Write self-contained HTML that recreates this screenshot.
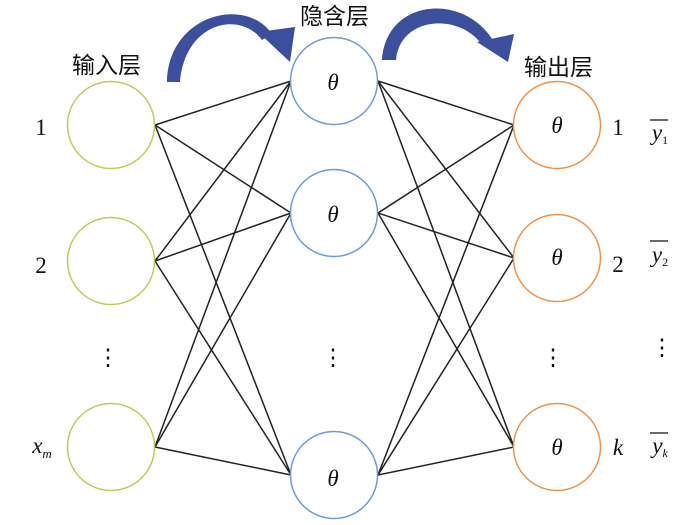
<!DOCTYPE html>
<html><head><meta charset="utf-8"><style>
body{margin:0;background:#fff}
svg{display:block}
text{font-family:"Liberation Serif","Noto Serif CJK SC",serif;fill:#111}
.cn{font-family:"Liberation Sans","Noto Sans CJK SC",sans-serif;font-size:23px}
.it{font-style:italic}
</style></head><body>
<svg width="700" height="525" viewBox="0 0 700 525" xmlns="http://www.w3.org/2000/svg">
<g stroke="#222" stroke-width="1.5">
<line x1="155" y1="125" x2="291" y2="81"/><line x1="155" y1="125" x2="291" y2="213"/><line x1="155" y1="125" x2="291" y2="475"/>
<line x1="155" y1="261" x2="291" y2="81"/><line x1="155" y1="261" x2="291" y2="213"/><line x1="155" y1="261" x2="291" y2="475"/>
<line x1="155" y1="447" x2="291" y2="81"/><line x1="155" y1="447" x2="291" y2="213"/><line x1="155" y1="447" x2="291" y2="475"/>
<line x1="378" y1="81" x2="514" y2="125"/><line x1="378" y1="81" x2="514" y2="258"/><line x1="378" y1="81" x2="514" y2="447"/>
<line x1="378" y1="213" x2="514" y2="125"/><line x1="378" y1="213" x2="514" y2="258"/><line x1="378" y1="213" x2="514" y2="447"/>
<line x1="378" y1="475" x2="514" y2="125"/><line x1="378" y1="475" x2="514" y2="258"/><line x1="378" y1="475" x2="514" y2="447"/>
</g>
<g fill="#fff" stroke-width="1.5">
<circle cx="111" cy="125" r="43.5" stroke="#b5cf5a"/>
<circle cx="111" cy="261" r="43.5" stroke="#b5cf5a"/>
<circle cx="111" cy="447" r="43.5" stroke="#b5cf5a"/>
<circle cx="334" cy="81" r="43.5" stroke="#6f9bd0"/>
<circle cx="334" cy="213" r="43.5" stroke="#6f9bd0"/>
<circle cx="334" cy="475" r="43.5" stroke="#6f9bd0"/>
<circle cx="557" cy="125" r="43.5" stroke="#f0924a"/>
<circle cx="557" cy="258" r="43.5" stroke="#f0924a"/>
<circle cx="557" cy="447" r="43.5" stroke="#f0924a"/>
</g>
<g fill="#3b4f9c" stroke="none">
<path d="M167,82 C168,15 245,-5 272,34 L262,40 C240,10 185,22 180,82 Z"/>
<path d="M258,32 L295,27 L290,62 Z"/>
<path d="M382,60 C386,-2 465,-8 494,42 L483,46 C460,12 400,16 396,60 Z"/>
<path d="M477,42 L514,34 L508,62 Z"/>
</g>
<text class="cn" x="72" y="73">输入层</text>
<text class="cn" x="300" y="24">隐含层</text>
<text class="cn" x="524" y="75">输出层</text>
<g font-size="23" text-anchor="middle">
<text x="41" y="135">1</text><text x="41" y="273">2</text>
<text x="42" y="453" class="it">x<tspan font-size="13" dy="5">m</tspan></text>
<text x="108" y="365">⋮</text><text x="333" y="365">⋮</text><text x="553" y="365">⋮</text><text x="662" y="355">⋮</text>
<text x="333" y="90" class="it">θ</text><text x="333" y="222" class="it">θ</text><text x="333" y="486" class="it">θ</text>
<text x="557" y="133" class="it">θ</text><text x="557" y="265" class="it">θ</text><text x="557" y="455" class="it">θ</text>
<text x="618" y="135">1</text><text x="618" y="272">2</text><text x="618" y="455" class="it">k</text>
<text x="660" y="140" class="it">y<tspan font-size="12" dy="4" font-style="normal">1</tspan></text>
<text x="660" y="262" class="it">y<tspan font-size="12" dy="4" font-style="normal">2</tspan></text>
<text x="660" y="453" class="it">y<tspan font-size="12" dy="4">k</tspan></text>
</g>
<g stroke="#111" stroke-width="1.3">
<line x1="650" y1="120" x2="668" y2="120"/>
<line x1="650" y1="241" x2="668" y2="241"/>
<line x1="650" y1="433" x2="668" y2="433"/>
</g>
</svg>
</body></html>
